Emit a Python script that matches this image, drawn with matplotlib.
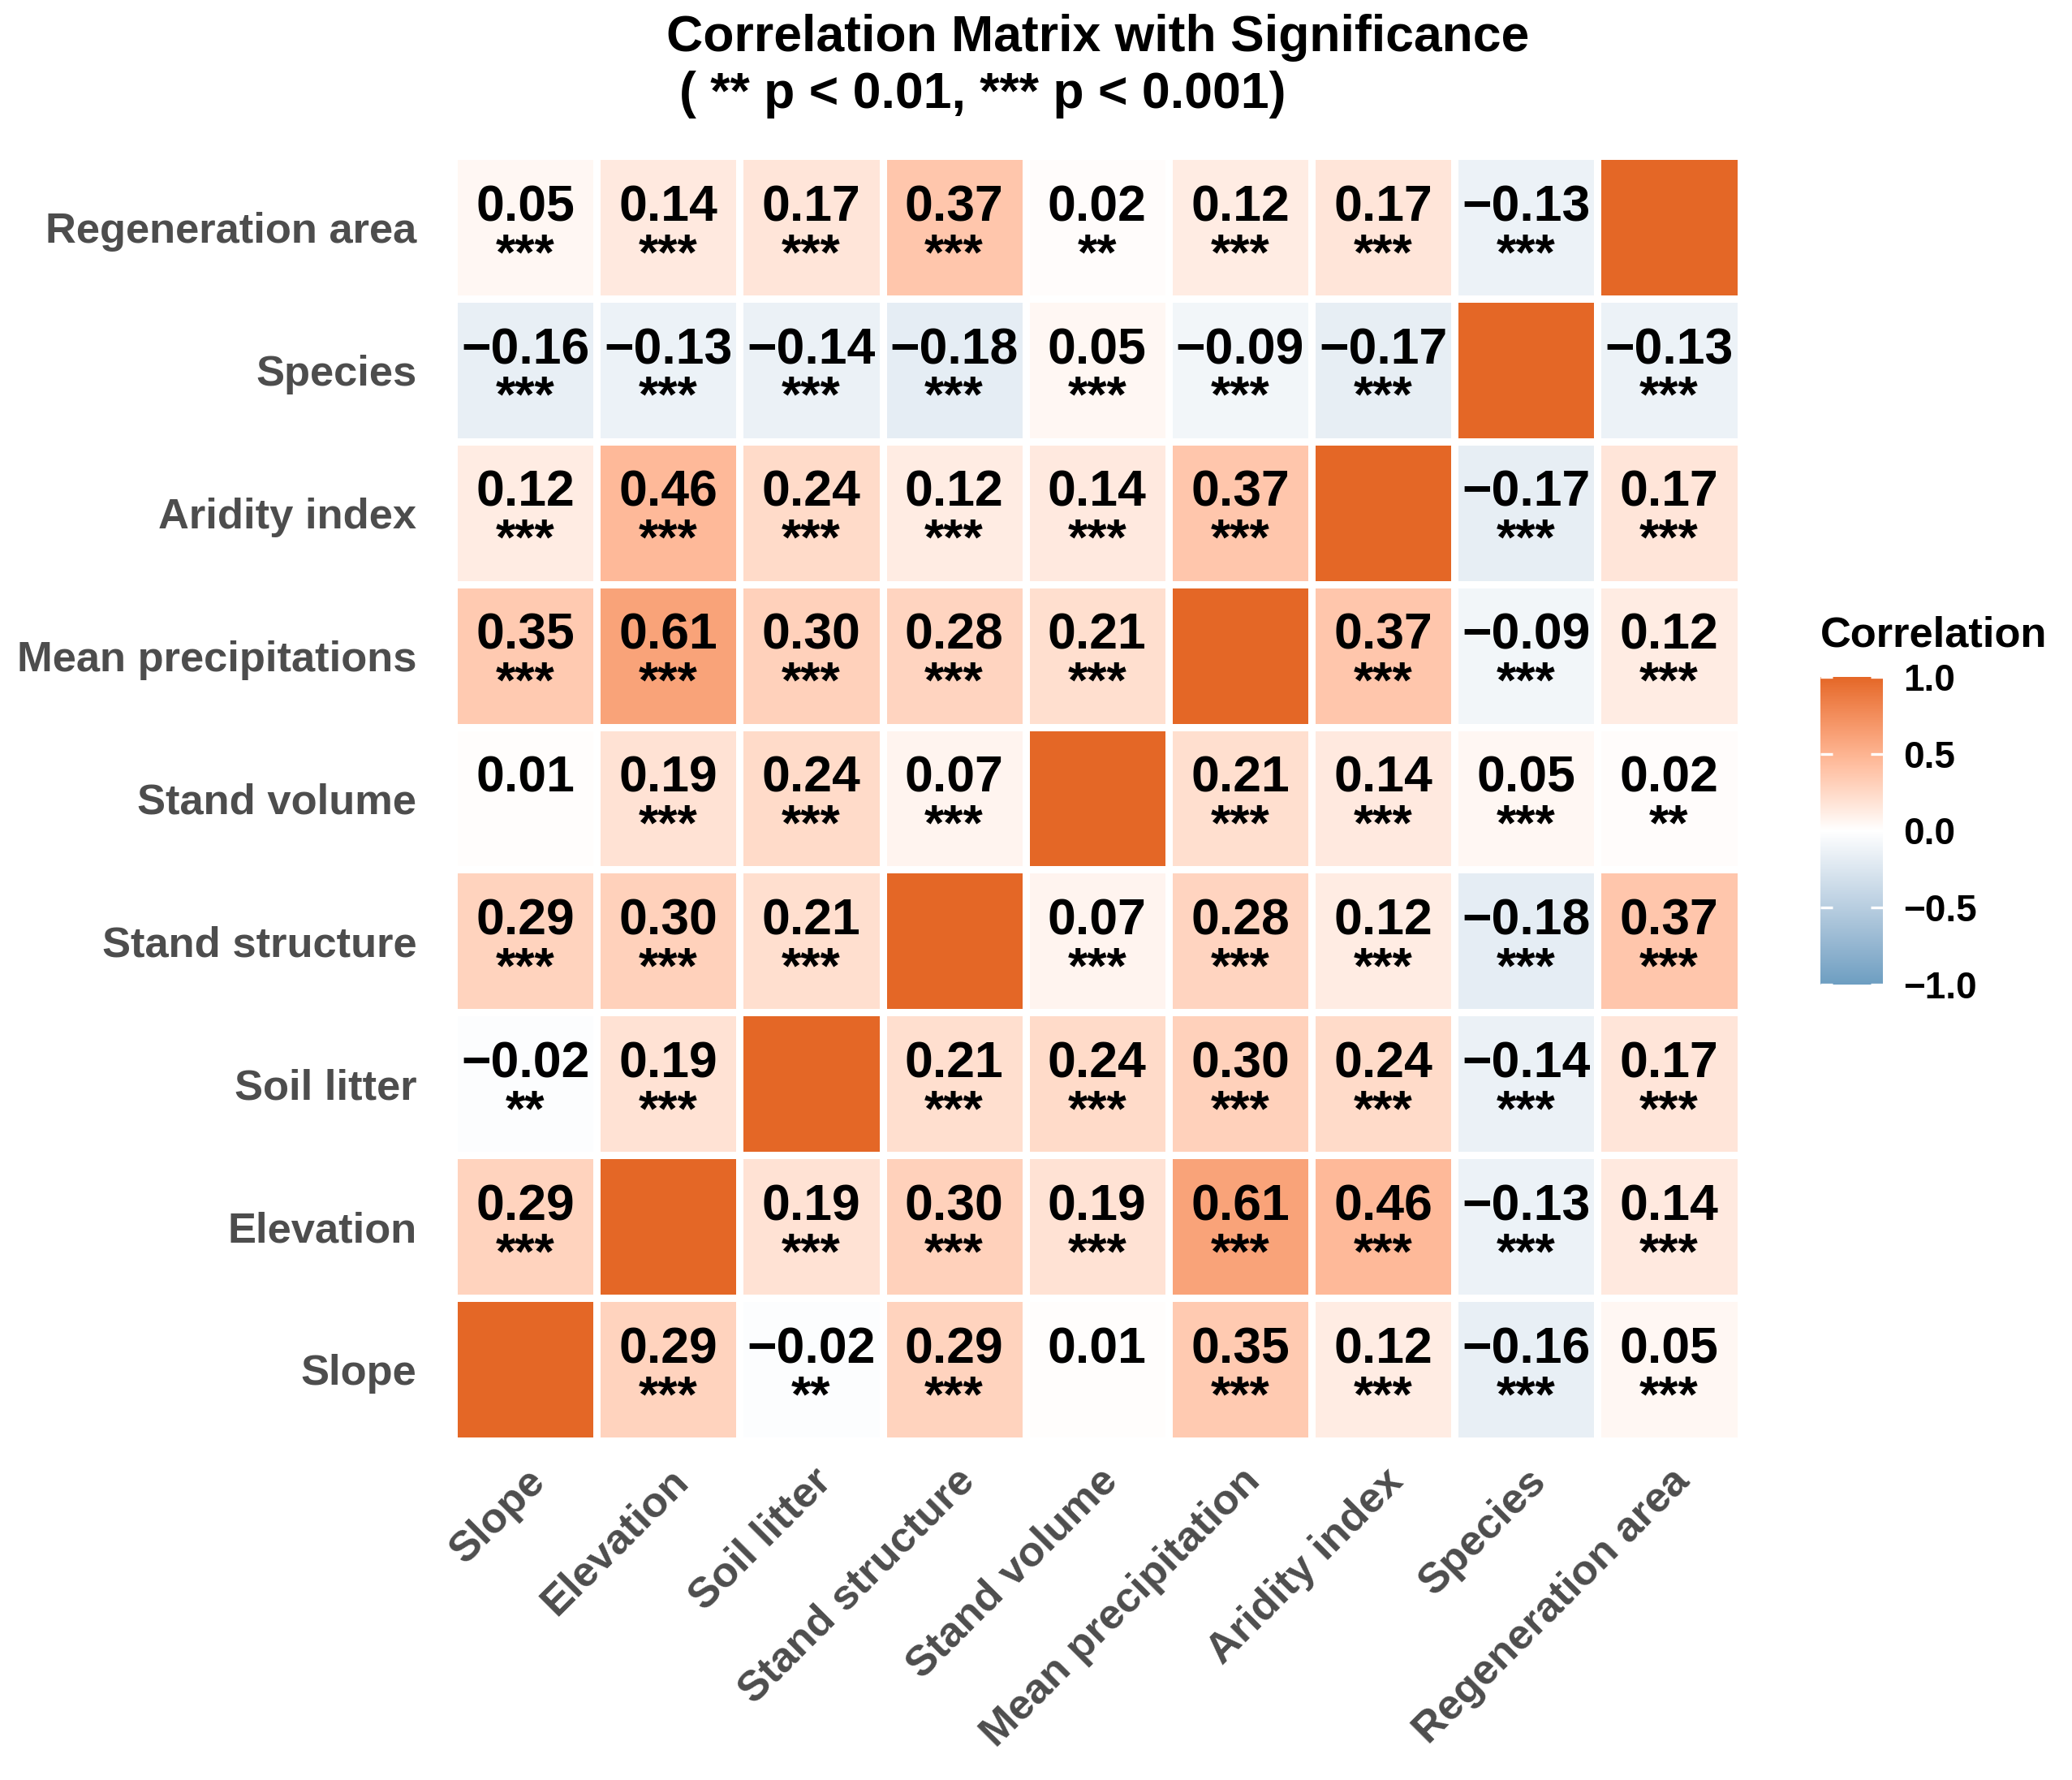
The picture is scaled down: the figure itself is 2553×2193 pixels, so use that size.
import numpy as np
import matplotlib
matplotlib.use("Agg")
import matplotlib.pyplot as plt
from matplotlib.colors import ListedColormap, Normalize, to_rgb
from matplotlib.cm import ScalarMappable

plt.rcParams['font.family'] = ['Liberation Sans', 'DejaVu Sans']

# variables (x axis, left to right) and y axis labels (bottom to top)
x_labels = ['Slope', 'Elevation', 'Soil litter', 'Stand structure', 'Stand volume',
            'Mean precipitation', 'Aridity index', 'Species', 'Regeneration area']
y_labels = ['Slope', 'Elevation', 'Soil litter', 'Stand structure', 'Stand volume',
            'Mean precipitations', 'Aridity index', 'Species', 'Regeneration area']

corr = [
    [1.00, 0.29, -0.02, 0.29, 0.01, 0.35, 0.12, -0.16, 0.05],
    [0.29, 1.00, 0.19, 0.30, 0.19, 0.61, 0.46, -0.13, 0.14],
    [-0.02, 0.19, 1.00, 0.21, 0.24, 0.30, 0.24, -0.14, 0.17],
    [0.29, 0.30, 0.21, 1.00, 0.07, 0.28, 0.12, -0.18, 0.37],
    [0.01, 0.19, 0.24, 0.07, 1.00, 0.21, 0.14, 0.05, 0.02],
    [0.35, 0.61, 0.30, 0.28, 0.21, 1.00, 0.37, -0.09, 0.12],
    [0.12, 0.46, 0.24, 0.12, 0.14, 0.37, 1.00, -0.17, 0.17],
    [-0.16, -0.13, -0.14, -0.18, 0.05, -0.09, -0.17, 1.00, -0.13],
    [0.05, 0.14, 0.17, 0.37, 0.02, 0.12, 0.17, -0.13, 1.00],
]

stars = [
    ['', '***', '**', '***', '', '***', '***', '***', '***'],
    ['***', '', '***', '***', '***', '***', '***', '***', '***'],
    ['**', '***', '', '***', '***', '***', '***', '***', '***'],
    ['***', '***', '***', '', '***', '***', '***', '***', '***'],
    ['', '***', '***', '***', '', '***', '***', '***', '**'],
    ['***', '***', '***', '***', '***', '', '***', '***', '***'],
    ['***', '***', '***', '***', '***', '***', '', '***', '***'],
    ['***', '***', '***', '***', '***', '***', '***', '', '***'],
    ['***', '***', '***', '***', '**', '***', '***', '***', ''],
]

low_col, mid_col, high_col = '#6D9EC1', 'white', '#E46726'


# gradient interpolated in CIELAB, like ggplot2's gradient2
M = np.array([[0.4124, 0.3576, 0.1805],
              [0.2126, 0.7152, 0.0722],
              [0.0193, 0.1192, 0.9505]])
WHITE = np.array([0.95047, 1.0, 1.08883])


def rgb_to_lab(c):
    c = np.array(to_rgb(c))
    lin = np.where(c <= 0.04045, c / 12.92, ((c + 0.055) / 1.055) ** 2.4)
    xyz = M @ lin / WHITE
    f = np.where(xyz > 0.008856, np.cbrt(xyz), 7.787 * xyz + 16 / 116)
    return np.array([116 * f[1] - 16, 500 * (f[0] - f[1]), 200 * (f[1] - f[2])])


def lab_to_rgb(lab):
    fy = (lab[0] + 16) / 116
    f = np.array([fy + lab[1] / 500, fy, fy - lab[2] / 200])
    xyz = np.where(f ** 3 > 0.008856, f ** 3, (f - 16 / 116) / 7.787) * WHITE
    lin = np.linalg.solve(M, xyz)
    lin = np.clip(lin, 0, 1)
    c = np.where(lin <= 0.0031308, 12.92 * lin, 1.055 * lin ** (1 / 2.4) - 0.055)
    return np.clip(c, 0, 1)


lab_lo, lab_mid, lab_hi = rgb_to_lab(low_col), rgb_to_lab(mid_col), rgb_to_lab(high_col)
colours = []
for t in np.linspace(-1, 1, 511):
    if t < 0:
        lab = lab_mid + (lab_lo - lab_mid) * (-t)
    else:
        lab = lab_mid + (lab_hi - lab_mid) * t
    colours.append(lab_to_rgb(lab))
cmap = ListedColormap(colours)
norm = Normalize(vmin=-1, vmax=1)

fig = plt.figure(figsize=(2553 / 300, 2193 / 300), dpi=300)
ax = fig.add_axes([0.219, 0.1906, 0.621, 0.7218])

mat = np.array(corr)
n = len(x_labels)
ax.pcolormesh(np.arange(n + 1), np.arange(n + 1), mat, cmap=cmap, norm=norm,
              edgecolors='white', linewidth=1.7)

for i in range(n):
    for j in range(n):
        if i == j:
            continue
        txt = f"{mat[i, j]:.2f}".replace('-', '\u2212')
        ax.text(j + 0.5, i + 0.545, txt, ha='center', va='baseline',
                fontsize=15, fontweight='bold', color='black')
        if stars[i][j]:
            ax.text(j + 0.5, i + 0.5 - 0.29, stars[i][j], ha='center', va='baseline',
                    fontsize=15, fontweight='bold', color='black')

ax.set_xlim(0, n)
ax.set_ylim(0, n)
ax.set_xticks(np.arange(n) + 0.5)
ax.set_yticks(np.arange(n) + 0.5)
ax.set_xticklabels(x_labels, rotation=45, ha='right', rotation_mode='anchor',
                   fontsize=12.6, fontweight='bold', color='#4D4D4D')
ax.set_yticklabels(y_labels, fontsize=12.6, fontweight='bold', color='#4D4D4D')
ax.tick_params(length=0)
ax.tick_params(axis='y', pad=11)
ax.tick_params(axis='x', pad=6)
for s in ax.spines.values():
    s.set_visible(False)

# legend colourbar
cax = fig.add_axes([0.8786, 0.4469, 0.0302, 0.1728])
cb = fig.colorbar(ScalarMappable(norm=norm, cmap=cmap), cax=cax)
cb.outline.set_visible(False)
cb.set_ticks([-1.0, -0.5, 0.0, 0.5, 1.0])
cb.set_ticklabels(['\u22121.0', '\u22120.5', '0.0', '0.5', '1.0'])
cax.tick_params(direction='in', left=True, right=True, color='white',
                length=3.7, width=0.8, pad=6, labelsize=11)
for lab in cax.get_yticklabels():
    lab.set_fontweight('bold')
fig.text(0.8786, 0.643, 'Correlation', ha='left', va='center',
         fontsize=12.6, fontweight='bold')

# title
fig.text(0.530, 0.979, 'Correlation Matrix with Significance', ha='center', va='center',
         fontsize=15, fontweight='bold')
fig.text(0.328, 0.947, '( ** p < 0.01, *** p < 0.001)', ha='left', va='center',
         fontsize=15, fontweight='bold')

fig.savefig('out.png', dpi=300)
